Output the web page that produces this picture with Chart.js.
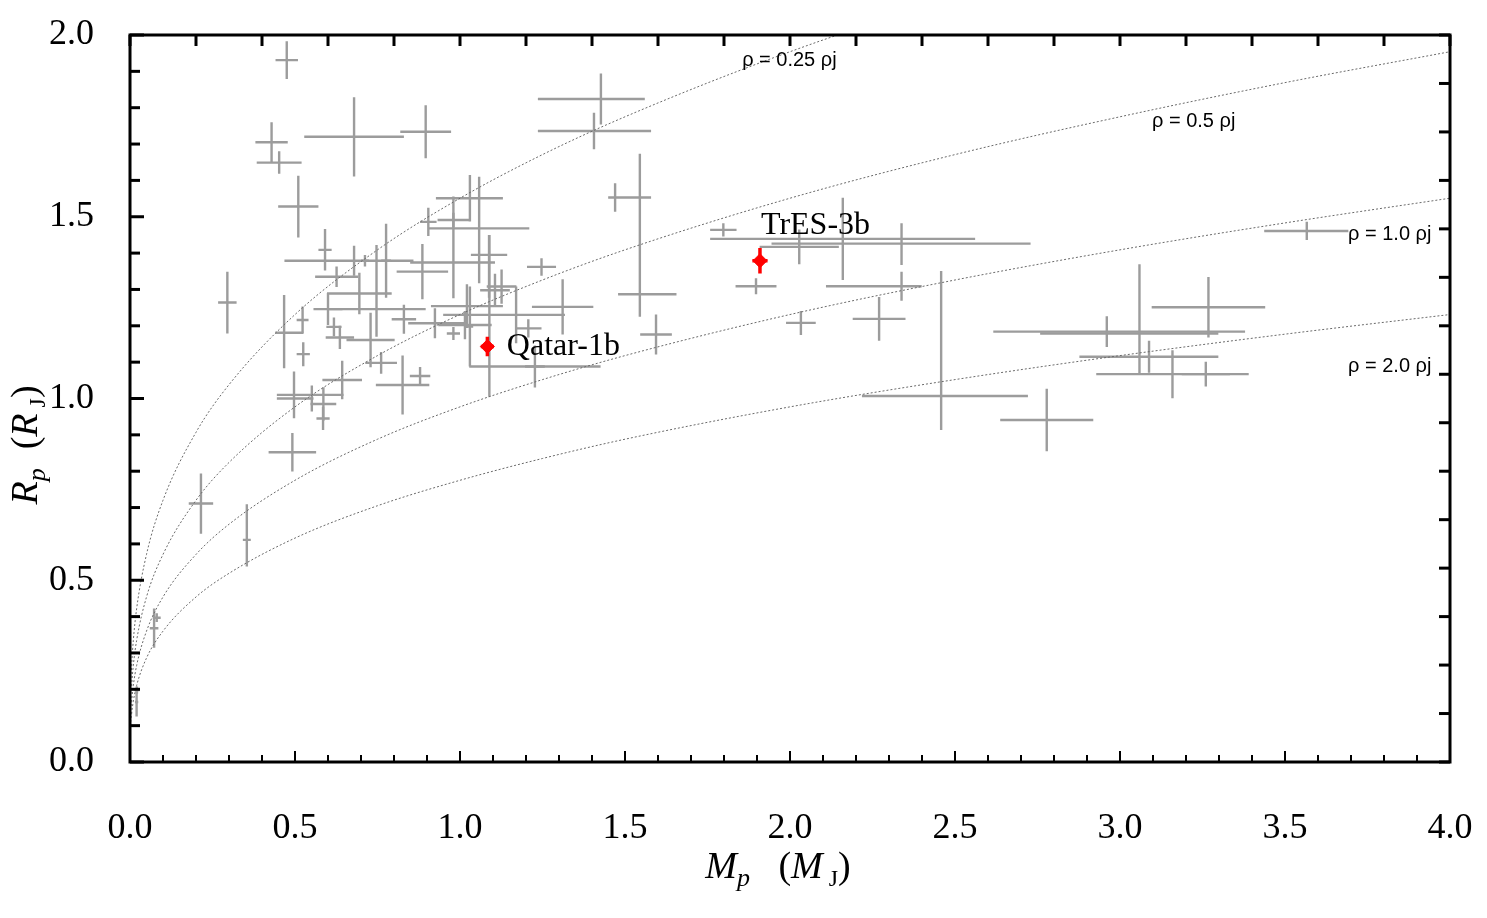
<!DOCTYPE html>
<html><head><meta charset="utf-8">
<script src="https://cdn.jsdelivr.net/npm/chart.js@4.4.1/dist/chart.umd.min.js"></script>
<style>html,body{margin:0;padding:0;background:#fff;}#wrap{width:1487px;height:918px;}</style>
</head><body><div id="wrap"><canvas id="c" width="1487" height="918"></canvas></div>
<script>
// ---- tick labels ----
const xTickLabels = ['0.0','0.5','1.0','1.5','2.0','2.5','3.0','3.5','4.0'];
const yTickLabels = ['0.0','0.5','1.0','1.5','2.0'];

// ---- iso-density curves ----
const curveMass = [0, 0.001, 0.005, 0.01, 0.02, 0.05, 0.1, 0.2, 0.3, 0.5, 0.75, 1.0, 1.25, 1.5, 2.0, 2.5, 3.0, 3.5, 4.0];
const rho025R = [0, 0.155, 0.265, 0.334, 0.421, 0.571, 0.720, 0.907, 1.038, 1.231, 1.409, 1.551, 1.671, 1.775, 1.954, 2.105, 2.236, 2.355, 2.462];
const rho05R  = [0, 0.123, 0.210, 0.265, 0.334, 0.454, 0.571, 0.720, 0.824, 0.977, 1.118, 1.231, 1.326, 1.409, 1.551, 1.671, 1.775, 1.869, 1.954];
const rho1R   = [0, 0.098, 0.167, 0.210, 0.265, 0.360, 0.454, 0.571, 0.654, 0.775, 0.888, 0.977, 1.052, 1.118, 1.231, 1.326, 1.409, 1.483, 1.551];
const rho2R   = [0, 0.078, 0.133, 0.167, 0.210, 0.286, 0.360, 0.454, 0.519, 0.616, 0.705, 0.775, 0.835, 0.888, 0.977, 1.052, 1.118, 1.177, 1.231];
const curveLabels = ['\u03c1 = 0.25 \u03c1j', '\u03c1 = 0.5 \u03c1j', '\u03c1 = 1.0 \u03c1j', '\u03c1 = 2.0 \u03c1j'];
const curveLabelMass = [1.855, 3.097, 3.691, 3.691];
const curveLabelRadius = [1.931, 1.761, 1.450, 1.089];

// ---- known transiting planets ----
const planetMass = [0.475,0.679,0.896,0.429,0.452,0.510,0.591,0.295,0.679,0.712,0.776,0.695,0.626,0.886,1.030,0.980,1.058,0.980,1.088,0.904,1.247,1.106,1.021,0.924,1.015,0.980,1.207,1.089,1.030,1.470,1.545,1.594,1.311,1.170,1.227,1.126,0.467,0.523,0.525,0.600,0.618,0.636,0.729,0.747,0.830,0.761,0.826,0.879,0.643,0.497,0.551,0.586,0.585,0.492,0.215,0.354,0.073,0.081,0.020,0.021,1.427,1.406,1.798,2.160,2.338,2.028,1.897,2.338,2.033,2.270,2.458,2.778,3.566,3.268,2.960,3.059,3.088,3.159,3.260];
const planetRadius = [1.931,1.720,1.734,1.705,1.649,1.528,1.409,1.264,1.379,1.379,1.379,1.289,1.335,1.349,1.551,1.491,1.468,1.374,1.395,1.486,1.362,1.298,1.254,1.207,1.202,1.179,1.193,1.088,1.198,1.553,1.287,1.176,1.252,1.230,1.088,1.308,1.181,1.216,1.122,1.246,1.197,1.168,1.161,1.246,1.218,1.098,1.037,1.062,1.051,1.010,1.000,0.985,0.945,0.852,0.711,0.611,0.368,0.397,0.165,0.198,1.824,1.736,1.464,1.439,1.426,1.417,1.309,1.309,1.208,1.219,1.007,0.941,1.461,1.251,1.184,1.179,1.115,1.067,1.067];
const massErrMinus = [0.034,0.151,0.077,0.049,0.068,0.061,0.020,0.028,0.211,0.012,0.015,0.098,0.065,0.078,0.103,0.048,0.154,0.131,0.055,0.025,0.044,0.045,0.109,0.081,0.081,0.020,0.040,0.061,0.010,0.021,0.066,0.048,0.093,0.221,0.030,0.045,0.027,0.018,0.020,0.044,0.023,0.043,0.073,0.149,0.037,0.048,0.081,0.031,0.060,0.052,0.106,0.039,0.020,0.072,0.037,0.012,0.013,0.012,0.005,0.008,0.191,0.170,0.040,0.402,0.394,0.120,0.062,0.229,0.045,0.080,0.240,0.141,0.129,0.172,0.344,0.301,0.211,0.231,0.073];
const massErrPlus  = [0.034,0.151,0.077,0.049,0.068,0.061,0.020,0.028,0.180,0.012,0.015,0.098,0.065,0.078,0.100,0.048,0.152,0.126,0.055,0.025,0.044,0.045,0.109,0.096,0.081,0.020,0.040,0.337,0.010,0.109,0.111,0.048,0.093,0.148,0.030,0.045,0.058,0.018,0.020,0.044,0.023,0.043,0.073,0.149,0.037,0.048,0.081,0.031,0.060,0.150,0.005,0.039,0.020,0.072,0.037,0.012,0.013,0.012,0.005,0.008,0.133,0.173,0.040,0.401,0.391,0.120,0.062,0.061,0.045,0.080,0.263,0.141,0.126,0.172,0.419,0.239,0.210,0.231,0.073];
const radiusErrMinus = [0.052,0.109,0.073,0.055,0.031,0.085,0.057,0.085,0.041,0.016,0.102,0.057,0.028,0.076,0.064,0.020,0.151,0.098,0.118,0.039,0.024,0.045,0.060,0.041,0.039,0.018,0.025,0.083,0.110,0.039,0.062,0.055,0.076,0.078,0.058,0.047,0.098,0.037,0.033,0.044,0.026,0.032,0.075,0.076,0.040,0.030,0.081,0.025,0.053,0.064,0.036,0.046,0.032,0.053,0.083,0.073,0.054,0.012,0.040,0.010,0.070,0.050,0.018,0.113,0.059,0.048,0.022,0.040,0.033,0.060,0.094,0.086,0.025,0.083,0.042,0.110,0.044,0.066,0.034];
const radiusErrPlus  = [0.052,0.109,0.073,0.055,0.031,0.085,0.057,0.085,0.041,0.016,0.102,0.057,0.028,0.076,0.064,0.020,0.142,0.182,0.055,0.039,0.024,0.045,0.060,0.041,0.039,0.018,0.025,0.362,0.110,0.039,0.386,0.055,0.076,0.078,0.058,0.047,0.104,0.037,0.033,0.044,0.026,0.032,0.075,0.176,0.040,0.030,0.081,0.025,0.053,0.064,0.036,0.046,0.032,0.053,0.083,0.098,0.054,0.012,0.040,0.010,0.070,0.050,0.018,0.113,0.056,0.048,0.022,0.040,0.033,0.060,0.344,0.086,0.025,0.083,0.042,0.190,0.044,0.066,0.034];

// ---- highlighted planets ----
const namedPlanets = ['Qatar-1b', 'TrES-3b'];
const namedMass = [1.083, 1.909];
const namedRadius = [1.143, 1.379];
const namedMassErr = [0.020, 0.023];
const namedRadiusErr = [0.027, 0.035];
const namedLabelMass = [1.142, 1.912];
const namedLabelRadius = [1.142, 1.477];

const toXY = (xs, ys) => xs.map((x, i) => ({x: x, y: ys[i]}));
const curveStyle = {type: 'line', borderColor: '#6a6a6a', borderWidth: 1, borderDash: [2, 2], pointRadius: 0, fill: false, cubicInterpolationMode: 'monotone'};

const errorBarPlugin = {
  id: 'errorBars',
  beforeDatasetsDraw(chart) {
    const {ctx, chartArea: a, scales: {x, y}} = chart;
    ctx.save();
    ctx.beginPath(); ctx.rect(a.left, a.top, a.right - a.left, a.bottom - a.top); ctx.clip();
    ctx.strokeStyle = '#9c9c9c'; ctx.lineWidth = 2.4; ctx.lineCap = 'butt';
    planetMass.forEach((m, i) => {
      const r = planetRadius[i];
      const px = x.getPixelForValue(m), py = y.getPixelForValue(r);
      ctx.beginPath();
      ctx.moveTo(x.getPixelForValue(m - massErrMinus[i]), py);
      ctx.lineTo(x.getPixelForValue(m + massErrPlus[i]), py);
      ctx.moveTo(px, y.getPixelForValue(r - radiusErrMinus[i]));
      ctx.lineTo(px, y.getPixelForValue(r + radiusErrPlus[i]));
      ctx.stroke();
    });
    ctx.restore();
  },
  afterDatasetsDraw(chart) {
    const {ctx, scales: {x, y}} = chart;
    ctx.save();
    ctx.strokeStyle = '#ff0000'; ctx.lineWidth = 3.5;
    namedMass.forEach((m, i) => {
      const r = namedRadius[i];
      const px = x.getPixelForValue(m), py = y.getPixelForValue(r);
      ctx.beginPath();
      ctx.moveTo(x.getPixelForValue(m - namedMassErr[i]), py);
      ctx.lineTo(x.getPixelForValue(m + namedMassErr[i]), py);
      ctx.moveTo(px, y.getPixelForValue(r - namedRadiusErr[i]));
      ctx.lineTo(px, y.getPixelForValue(r + namedRadiusErr[i]));
      ctx.stroke();
    });
    // planet names
    ctx.fillStyle = '#000'; ctx.font = '32px "Liberation Serif", "Times New Roman", serif';
    ctx.textAlign = 'left'; ctx.textBaseline = 'middle';
    namedPlanets.forEach((n, i) => ctx.fillText(n, x.getPixelForValue(namedLabelMass[i]), y.getPixelForValue(namedLabelRadius[i])));
    // density labels
    ctx.font = '20px "Liberation Sans", Arial, sans-serif';
    curveLabels.forEach((t, i) => ctx.fillText(t, x.getPixelForValue(curveLabelMass[i]), y.getPixelForValue(curveLabelRadius[i])));
    ctx.restore();
  }
};

const framePlugin = {
  id: 'frame',
  afterDraw(chart) {
    const {ctx, chartArea: a, scales: {x, y}} = chart;
    ctx.save();
    ctx.strokeStyle = '#000'; ctx.lineCap = 'butt';
    // bottom ticks every 0.1, major every 0.5
    ctx.lineWidth = 2;
    for (let k = 0; k <= 40; k++) {
      const px = x.getPixelForValue(k / 10);
      const len = (k % 5 === 0) ? 11 : 7;
      ctx.beginPath(); ctx.moveTo(px, a.bottom); ctx.lineTo(px, a.bottom - len); ctx.stroke();
    }
    // top ticks every 0.2
    ctx.lineWidth = 3;
    for (let k = 0; k <= 20; k++) {
      const px = x.getPixelForValue(k * 0.2);
      ctx.beginPath(); ctx.moveTo(px, a.top); ctx.lineTo(px, a.top + 11); ctx.stroke();
    }
    // left ticks every 0.1, major every 0.5
    for (let k = 0; k <= 20; k++) {
      const py = y.getPixelForValue(k / 10);
      const len = (k % 5 === 0) ? 14 : 10;
      ctx.beginPath(); ctx.moveTo(a.left, py); ctx.lineTo(a.left + len, py); ctx.stroke();
    }
    // right ticks, 15 intervals
    for (let k = 0; k <= 15; k++) {
      const py = y.getPixelForValue(k * 2 / 15);
      ctx.beginPath(); ctx.moveTo(a.right, py); ctx.lineTo(a.right - 11, py); ctx.stroke();
    }
    ctx.lineWidth = 3;
    ctx.strokeRect(a.left, a.top, a.right - a.left, a.bottom - a.top);

    // axis titles with subscripts
    const drawParts = (parts, cx, base) => {
      let w = 0;
      parts.forEach(p => { ctx.font = p.f; w += ctx.measureText(p.t).width; });
      let cur = cx - w / 2;
      parts.forEach(p => { ctx.font = p.f; ctx.fillText(p.t, cur, base + (p.dy || 0)); cur += ctx.measureText(p.t).width; });
    };
    const it = 'italic 38px "Liberation Serif", "Times New Roman", serif';
    const itS = 'italic 26px "Liberation Serif", "Times New Roman", serif';
    const up = '38px "Liberation Serif", "Times New Roman", serif';
    const upS = '24px "Liberation Serif", "Times New Roman", serif';
    ctx.fillStyle = '#000'; ctx.textAlign = 'left'; ctx.textBaseline = 'alphabetic';
    drawParts([{t:'M', f:it}, {t:'p', f:itS, dy:8}, {t:'   (', f:up}, {t:'M', f:it}, {t:' J', f:upS, dy:8}, {t:')', f:up}],
      (a.left + a.right) / 2 - 12, 878);
    ctx.save();
    ctx.translate(37, 445); ctx.rotate(-Math.PI / 2);
    drawParts([{t:'R', f:it}, {t:'p', f:itS, dy:8}, {t:'  (', f:up}, {t:'R', f:it}, {t:' J', f:upS, dy:8}, {t:')', f:up}], 0, 0);
    ctx.restore();
    ctx.restore();
  }
};

new Chart(document.getElementById('c'), {
  data: {
    datasets: [
      Object.assign({label: curveLabels[0], data: toXY(curveMass, rho025R)}, curveStyle),
      Object.assign({label: curveLabels[1], data: toXY(curveMass, rho05R)}, curveStyle),
      Object.assign({label: curveLabels[2], data: toXY(curveMass, rho1R)}, curveStyle),
      Object.assign({label: curveLabels[3], data: toXY(curveMass, rho2R)}, curveStyle),
      {type: 'scatter', label: 'Known planets', data: toXY(planetMass, planetRadius), pointRadius: 0},
      {type: 'scatter', label: 'Highlighted', data: toXY(namedMass, namedRadius), pointStyle: 'rectRot', pointRadius: 7, backgroundColor: '#ff0000', borderColor: '#ff0000', borderWidth: 1}
    ]
  },
  options: {
    responsive: false, animation: false, devicePixelRatio: 1,
    layout: {padding: {top: 35, right: 37, left: 0, bottom: 0}},
    plugins: {legend: {display: false}, tooltip: {enabled: false}},
    scales: {
      x: {
        type: 'linear', position: 'bottom', min: 0, max: 4,
        grid: {display: false, drawTicks: false}, border: {display: false},
        ticks: {stepSize: 0.5, autoSkip: false, maxRotation: 0, padding: 45, color: '#000',
          font: {family: '"Liberation Serif", "Times New Roman", serif', size: 36},
          callback: (v) => xTickLabels[Math.round(v / 0.5)]},
        afterFit: (s) => { s.height = 156; s.paddingLeft = 0; s.paddingRight = 0; s.paddingTop = 0; s.paddingBottom = 0; }
      },
      y: {
        type: 'linear', position: 'left', min: 0, max: 2,
        grid: {display: false, drawTicks: false}, border: {display: false},
        ticks: {stepSize: 0.5, autoSkip: false, padding: 36, color: '#000',
          font: {family: '"Liberation Serif", "Times New Roman", serif', size: 36},
          callback: (v) => yTickLabels[Math.round(v / 0.5)]},
        afterFit: (s) => { s.width = 130; s.paddingLeft = 0; s.paddingRight = 0; s.paddingTop = 0; s.paddingBottom = 0; }
      }
    }
  },
  plugins: [errorBarPlugin, framePlugin]
});
</script></body></html>
